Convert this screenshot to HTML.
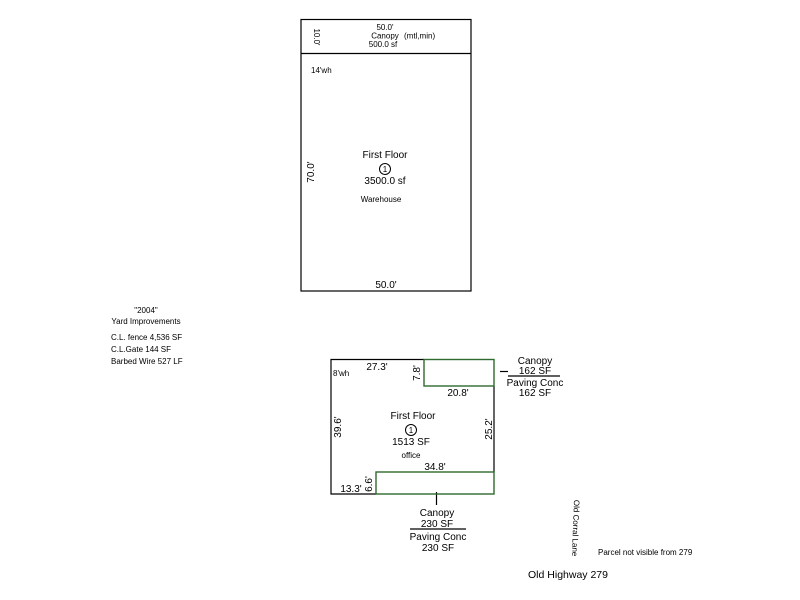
<!DOCTYPE html>
<html><head><meta charset="utf-8"><style>
html,body{margin:0;padding:0;background:#fff;}
svg{display:block;font-family:"Liberation Sans",Arial,sans-serif;}
</style></head><body>
<svg width="800" height="600" viewBox="0 0 800 600" xmlns="http://www.w3.org/2000/svg">
<g fill="none" stroke="#000" stroke-width="1.2">
<rect x="301" y="19.5" width="170" height="271.5"/>
<line x1="301" y1="53.5" x2="471" y2="53.5"/>
<polyline points="424,359.5 331,359.5 331,494 376,494"/>
<line x1="494" y1="386" x2="494" y2="472"/>
<line x1="508" y1="371.5" x2="500" y2="371.5"/>
<line x1="436.5" y1="492" x2="436.5" y2="505"/>
<line x1="508" y1="376" x2="560" y2="376"/>
<line x1="410" y1="529" x2="466" y2="529"/>
</g>
<g fill="none" stroke="#2f6a2f" stroke-width="1.4">
<rect x="424" y="359.5" width="70" height="26.5"/>
<rect x="376" y="472" width="118" height="22"/>
</g>
<circle cx="385" cy="169" r="5.5" fill="none" stroke="#000" stroke-width="1"/>
<text x="385" y="172" font-size="8" text-anchor="middle">1</text>
<circle cx="411" cy="430" r="5.5" fill="none" stroke="#000" stroke-width="1"/>
<text x="411" y="433" font-size="8" text-anchor="middle">1</text>
<g font-size="8" fill="#000">
<text x="385" y="30" text-anchor="middle">50.0'</text>
<text x="385" y="38.5" text-anchor="middle">Canopy</text>
<text x="404" y="38.5">(mtl,min)</text>
<text x="383" y="47" text-anchor="middle">500.0 sf</text>
<text transform="translate(314,37) rotate(90)" text-anchor="middle">10.0'</text>
<text x="311" y="73">14'wh</text>
<text x="381" y="202" text-anchor="middle">Warehouse</text>
<text x="146" y="313" text-anchor="middle">"2004"</text>
<text x="146" y="324" text-anchor="middle">Yard Improvements</text>
<text x="111" y="340">C.L. fence 4,536 SF</text>
<text x="111" y="352">C.L.Gate 144 SF</text>
<text x="111" y="364">Barbed Wire 527 LF</text>
<text x="333" y="376">8'wh</text>
<text x="411" y="458" text-anchor="middle">office</text>
<text transform="translate(573,528) rotate(92)" text-anchor="middle">Old Corral Lane</text>
<text x="598" y="555">Parcel not visible from 279</text>
</g>
<g font-size="10" fill="#000">
<text x="385" y="158" text-anchor="middle">First Floor</text>
<text x="385" y="184" text-anchor="middle">3500.0 sf</text>
<text transform="translate(314,172) rotate(-90)" text-anchor="middle">70.0'</text>
<text x="386" y="288" text-anchor="middle">50.0'</text>
<text x="377" y="370" text-anchor="middle">27.3'</text>
<text transform="translate(420,373) rotate(-90)" text-anchor="middle">7.8'</text>
<text x="458" y="396" text-anchor="middle">20.8'</text>
<text x="413" y="419" text-anchor="middle">First Floor</text>
<text x="411" y="445" text-anchor="middle">1513 SF</text>
<text transform="translate(341,427) rotate(-90)" text-anchor="middle">39.6'</text>
<text transform="translate(492,429) rotate(-90)" text-anchor="middle">25.2'</text>
<text x="435" y="470" text-anchor="middle">34.8'</text>
<text x="351" y="492" text-anchor="middle">13.3'</text>
<text transform="translate(372,484) rotate(-90)" text-anchor="middle">6.6'</text>
<text x="535" y="364" text-anchor="middle">Canopy</text>
<text x="535" y="374" text-anchor="middle">162 SF</text>
<text x="535" y="386" text-anchor="middle">Paving Conc</text>
<text x="535" y="396" text-anchor="middle">162 SF</text>
<text x="437" y="516" text-anchor="middle">Canopy</text>
<text x="437" y="527" text-anchor="middle">230 SF</text>
<text x="438" y="540" text-anchor="middle">Paving Conc</text>
<text x="438" y="551" text-anchor="middle">230 SF</text>
<text x="568" y="578" text-anchor="middle" font-size="10.5">Old Highway 279</text>
</g>
</svg>
</body></html>
